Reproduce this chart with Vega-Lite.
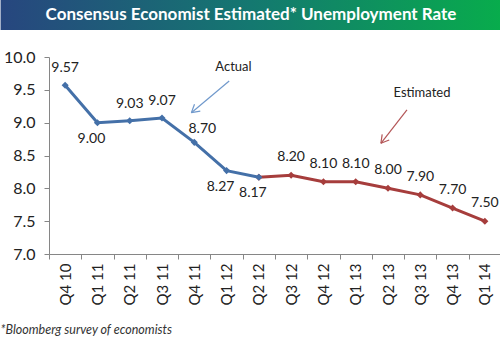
{
  "$schema": "https://vega.github.io/schema/vega-lite/v6.json",
  "background": "white",
  "padding": {"left": 0, "top": 0, "right": 0, "bottom": 4},
  "width": 452,
  "height": 197,
  "config": {"view": {"stroke": null}, "font": "Lato"},
  "title": {"text": "*Bloomberg survey of economists", "orient": "bottom", "anchor": "start", "fontStyle": "italic", "fontWeight": "normal", "fontSize": 12.5, "color": "#333333", "font": "Lato", "offset": 19, "frame": "bounds"},
  "datasets": {
    "unemp": [
      {"q": "Q4 10", "rate": 9.57, "series": "Actual"},
      {"q": "Q1 11", "rate": 9.00, "series": "Actual"},
      {"q": "Q2 11", "rate": 9.03, "series": "Actual"},
      {"q": "Q3 11", "rate": 9.07, "series": "Actual"},
      {"q": "Q4 11", "rate": 8.70, "series": "Actual"},
      {"q": "Q1 12", "rate": 8.27, "series": "Actual"},
      {"q": "Q2 12", "rate": 8.17, "series": "Actual"},
      {"q": "Q2 12", "rate": 8.17, "series": "Estimated"},
      {"q": "Q3 12", "rate": 8.20, "series": "Estimated"},
      {"q": "Q4 12", "rate": 8.10, "series": "Estimated"},
      {"q": "Q1 13", "rate": 8.10, "series": "Estimated"},
      {"q": "Q2 13", "rate": 8.00, "series": "Estimated"},
      {"q": "Q3 13", "rate": 7.90, "series": "Estimated"},
      {"q": "Q4 13", "rate": 7.70, "series": "Estimated"},
      {"q": "Q1 14", "rate": 7.50, "series": "Estimated"}
    ],
    "banner": [
      {"x": -2.0, "x2": 13.5, "y": 10.411, "y2": 10.868}
    ],
    "bannerText": [
      {"x": 5.757, "y": 10.64, "label": "Consensus Economist Estimated* Unemployment Rate"}
    ],
    "arrows": [
      {"series": "Actual", "x": 5.081, "y": 9.634, "x2": 3.910, "y2": 9.152},
      {"series": "Actual", "x": 3.910, "y": 9.152, "x2": 4.186, "y2": 9.176},
      {"series": "Actual", "x": 3.910, "y": 9.152, "x2": 4.006, "y2": 9.281},
      {"series": "Estimated", "x": 10.587, "y": 9.193, "x2": 9.780, "y2": 8.686},
      {"series": "Estimated", "x": 9.780, "y": 8.686, "x2": 10.037, "y2": 8.737},
      {"series": "Estimated", "x": 9.780, "y": 8.686, "x2": 9.820, "y2": 8.821}
    ],
    "notes": [
      {"label": "Actual", "x": 5.214, "y": 9.852},
      {"label": "Estimated", "x": 11.053, "y": 9.447}
    ]
  },
  "resolve": {"scale": {"x": "independent", "color": "independent"}, "axis": {"x": "independent", "y": "independent"}},
  "layer": [
    {
      "data": {"name": "unemp"},
      "encoding": {
        "x": {"field": "q", "type": "ordinal", "bandPosition": 0.5,
              "sort": ["Q4 10", "Q1 11", "Q2 11", "Q3 11", "Q4 11", "Q1 12", "Q2 12", "Q3 12", "Q4 12", "Q1 13", "Q2 13", "Q3 13", "Q4 13", "Q1 14"],
              "scale": {"type": "band", "paddingInner": 0, "paddingOuter": 0},
              "axis": {"title": null, "labelAngle": -90, "labelFontSize": 15, "labelColor": "#222222", "tickBand": "extent", "tickSize": 5, "labelPadding": 4, "domainColor": "#868686", "tickColor": "#868686", "labelFont": "Lato"}},
        "y": {"field": "rate", "type": "quantitative",
              "scale": {"domain": [7, 10], "zero": false, "nice": false},
              "axis": {"title": null, "values": [7, 7.5, 8, 8.5, 9, 9.5, 10], "labelOverlap": false, "format": ".1f", "grid": false, "tickSize": 5, "labelPadding": 9, "labelFontSize": 16, "labelColor": "#222222", "domainColor": "#868686", "tickColor": "#868686", "labelFont": "Lato"}}
      },
      "layer": [
        {
          "transform": [{"filter": "datum.series == 'Estimated'"}],
          "mark": {"type": "line", "color": "#a63d3c", "strokeWidth": 3, "point": {"shape": "diamond", "size": 50, "filled": true, "color": "#a63d3c"}}
        },
        {
          "transform": [{"filter": "datum.series == 'Actual'"}],
          "mark": {"type": "line", "color": "#4470a8", "strokeWidth": 3, "point": {"shape": "diamond", "size": 50, "filled": true, "color": "#4470a8"}}
        },
        {
          "transform": [{"filter": "datum.series == 'Actual' && indexof(['Q1 11','Q1 12','Q2 12','Q4 11'], datum.q) < 0"}],
          "mark": {"type": "text", "dy": -17, "fontSize": 14, "color": "#222222", "font": "Lato"},
          "encoding": {"text": {"field": "rate", "format": ".2f"}}
        },
        {
          "transform": [{"filter": "datum.q == 'Q4 11'"}],
          "mark": {"type": "text", "dy": -13, "dx": 8, "fontSize": 14, "color": "#222222", "font": "Lato"},
          "encoding": {"text": {"field": "rate", "format": ".2f"}}
        },
        {
          "transform": [{"filter": "datum.series == 'Actual' && indexof(['Q1 11','Q1 12','Q2 12'], datum.q) >= 0"}],
          "mark": {"type": "text", "dy": 16, "dx": -6, "fontSize": 14, "color": "#222222", "font": "Lato"},
          "encoding": {"text": {"field": "rate", "format": ".2f"}}
        },
        {
          "transform": [{"filter": "datum.series == 'Estimated' && datum.q != 'Q2 12'"}],
          "mark": {"type": "text", "dy": -18, "fontSize": 14, "color": "#222222", "font": "Lato"},
          "encoding": {"text": {"field": "rate", "format": ".2f"}}
        }
      ]
    },
    {
      "layer": [
        {
          "data": {"name": "banner"},
          "mark": {"type": "rect", "clip": false, "color": {"gradient": "linear", "x1": 0, "y1": 0, "x2": 1, "y2": 0, "stops": [{"offset": 0, "color": "#27467f"}, {"offset": 0.5, "color": "#147870"}, {"offset": 1, "color": "#08ac4c"}]}},
          "encoding": {
            "x": {"field": "x", "type": "quantitative", "scale": {"domain": [-0.5, 13.5], "zero": false, "nice": false}, "axis": null},
            "x2": {"field": "x2"},
            "y": {"field": "y", "type": "quantitative", "axis": null},
            "y2": {"field": "y2"}
          }
        },
        {
          "data": {"name": "bannerText"},
          "mark": {"type": "text", "clip": false, "color": "white", "fontWeight": "bold", "fontSize": 17, "font": "Lato", "baseline": "middle", "align": "center"},
          "encoding": {
            "x": {"field": "x", "type": "quantitative", "axis": null},
            "y": {"field": "y", "type": "quantitative", "axis": null},
            "text": {"field": "label"}
          }
        },
        {
          "data": {"name": "arrows"},
          "transform": [{"filter": "datum.series == 'Actual'"}],
          "mark": {"type": "rule", "color": "#7099cc", "strokeWidth": 1.2},
          "encoding": {
            "x": {"field": "x", "type": "quantitative", "axis": null},
            "x2": {"field": "x2"},
            "y": {"field": "y", "type": "quantitative", "axis": null},
            "y2": {"field": "y2"}
          }
        },
        {
          "data": {"name": "arrows"},
          "transform": [{"filter": "datum.series == 'Estimated'"}],
          "mark": {"type": "rule", "color": "#b35556", "strokeWidth": 1.2},
          "encoding": {
            "x": {"field": "x", "type": "quantitative", "axis": null},
            "x2": {"field": "x2"},
            "y": {"field": "y", "type": "quantitative", "axis": null},
            "y2": {"field": "y2"}
          }
        },
        {
          "data": {"name": "notes"},
          "mark": {"type": "text", "fontSize": 13, "color": "#222222", "font": "Lato"},
          "encoding": {
            "x": {"field": "x", "type": "quantitative", "axis": null},
            "y": {"field": "y", "type": "quantitative", "axis": null},
            "text": {"field": "label"}
          }
        }
      ]
    }
  ]
}
